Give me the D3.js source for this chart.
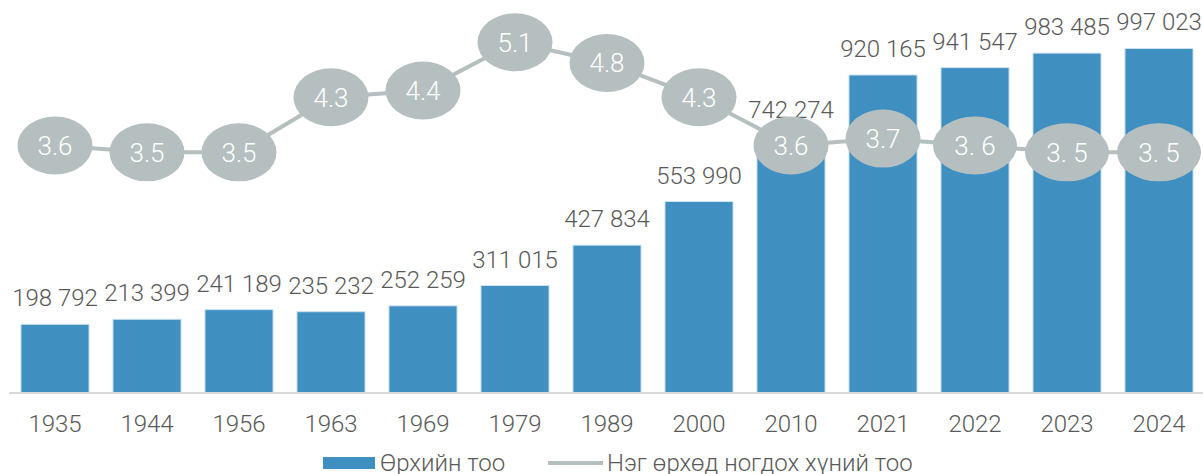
<!DOCTYPE html>
<html>
<head>
<meta charset="utf-8">
<script src="https://cdn.jsdelivr.net/npm/d3@7"></script>
<style>
  body { margin: 0; background: #fff; }
  svg text { font-family: Roboto, "Noto Sans", sans-serif; font-weight: 300; }
</style>
</head>
<body>
<svg id="chart" width="1203" height="474"></svg>
<script>
// data
var years = ["1935", "1944", "1956", "1963", "1969", "1979", "1989", "2000", "2010", "2021", "2022", "2023", "2024"];
var households = [198792, 213399, 241189, 235232, 252259, 311015, 427834, 553990, 742274, 920165, 941547, 983485, 997023];
var perHousehold = [3.6, 3.5, 3.5, 4.3, 4.4, 5.1, 4.8, 4.3, 3.6, 3.7, 3.6, 3.5, 3.5];
var perHouseholdLabels = ["3.6", "3.5", "3.5", "4.3", "4.4", "5.1", "4.8", "4.3", "3.6", "3.7", "3. 6", "3. 5", "3. 5"];
var seriesNames = ["Өрхийн тоо", "Нэг өрхөд ногдох хүний тоо"];

var barColor = "#3f8fc1",
    lineColor = "#b5bfbf",
    textColor = "#595959";

var svg = d3.select("#chart");
var baseY = 393;

var x = d3.scaleBand()
  .domain(years)
  .range([9, 1205])
  .paddingInner(0.26)
  .paddingOuter(0.13);

var y = d3.scaleLinear().domain([0, 1000000]).range([baseY, 47.4]);
var y2 = d3.scaleLinear().domain([0, 5]).range([baseY, 49.2]);

function fmt(v) {
  return d3.format(",")(v).replace(/,/g, " ");
}

// bars
svg.append("g").selectAll("rect")
  .data(households)
  .enter().append("rect")
    .attr("x", function(d, i) { return x(years[i]); })
    .attr("y", function(d) { return y(d); })
    .attr("width", x.bandwidth())
    .attr("height", function(d) { return baseY - y(d); })
    .attr("fill", barColor)
    .attr("stroke", "#cfe3f1")
    .attr("stroke-width", 1);

// axis
var xAxis = d3.axisBottom(x).tickSize(0).tickPadding(0);
var ax = svg.append("g")
  .attr("transform", "translate(0," + baseY + ")")
  .call(xAxis);
ax.select(".domain").attr("stroke", "#d9d9d9").attr("stroke-width", 2)
  .attr("d", "M9,0H1203");
ax.selectAll(".tick text")
  .attr("y", 39)
  .attr("dy", 0)
  .attr("fill", textColor)
  .style("font-size", "24px")
  .style("font-family", "Roboto, sans-serif")
  .style("font-weight", 300);

// bar value labels
svg.append("g").selectAll("text")
  .data(households)
  .enter().append("text")
    .attr("x", function(d, i) { return x(years[i]) + x.bandwidth() / 2; })
    .attr("y", function(d) { return y(d) - 18; })
    .attr("text-anchor", "middle")
    .attr("fill", textColor)
    .style("font-size", "24px")
    .text(function(d) { return fmt(d); });

// line
var line = d3.line()
  .x(function(d, i) { return x(years[i]) + x.bandwidth() / 2; })
  .y(function(d) { return y2(d); });

svg.append("path")
  .datum(perHousehold)
  .attr("d", line)
  .attr("fill", "none")
  .attr("stroke", lineColor)
  .attr("stroke-width", 4);

var pts = svg.append("g").selectAll("g")
  .data(perHousehold)
  .enter().append("g")
    .attr("transform", function(d, i) {
      return "translate(" + (x(years[i]) + x.bandwidth() / 2) + "," + y2(d) + ")";
    });

pts.append("ellipse")
  .attr("rx", function(d, i) { return perHouseholdLabels[i].indexOf(" ") > 0 ? 42 : 37.5; })
  .attr("ry", 29)
  .attr("fill", lineColor);

pts.append("text")
  .attr("text-anchor", "middle")
  .attr("dy", "0.36em")
  .attr("fill", "#fff")
  .style("font-size", "26px")
  .text(function(d, i) { return perHouseholdLabels[i]; });

// legend
var lg = svg.append("g");
lg.append("rect")
  .attr("x", 323).attr("y", 457)
  .attr("width", 52).attr("height", 12)
  .attr("fill", barColor);
lg.append("text")
  .attr("x", 380).attr("y", 471)
  .attr("fill", textColor)
  .style("font-size", "24px")
  .text(seriesNames[0]);
lg.append("line")
  .attr("x1", 548).attr("x2", 603)
  .attr("y1", 463).attr("y2", 463)
  .attr("stroke", lineColor)
  .attr("stroke-width", 4);
lg.append("text")
  .attr("x", 607).attr("y", 471)
  .attr("fill", textColor)
  .style("font-size", "24px")
  .text(seriesNames[1]);
</script>
</body>
</html>
